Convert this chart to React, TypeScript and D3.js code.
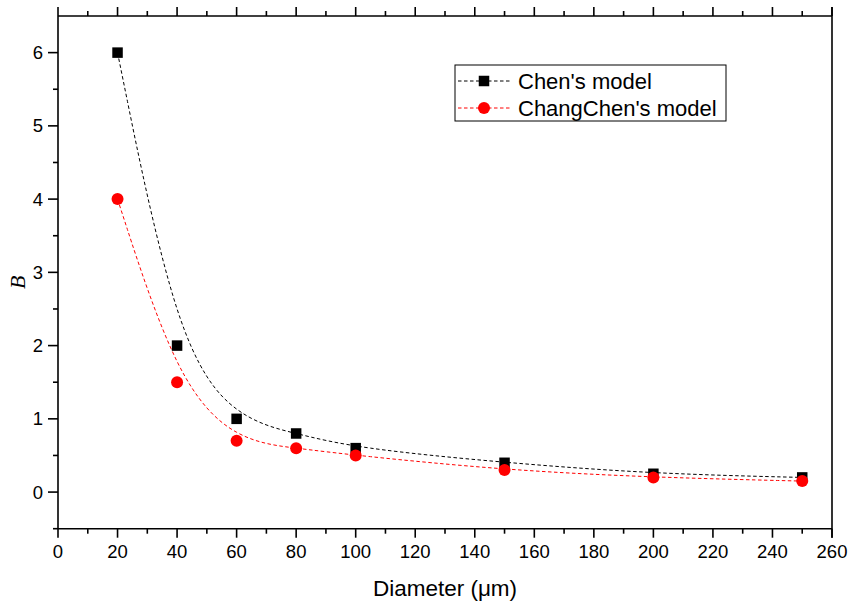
import React from "react";
import * as d3 from "d3";

const diameters = [20, 40, 60, 80, 100, 150, 200, 250];
const chenValues = [6, 2, 1, 0.8, 0.6, 0.4, 0.25, 0.2];
const changChenValues = [4, 1.5, 0.7, 0.6, 0.5, 0.3, 0.2, 0.15];
const xTicks = [0, 20, 40, 60, 80, 100, 120, 140, 160, 180, 200, 220, 240, 260];
const yTicks = [0, 1, 2, 3, 4, 5, 6];
const seriesNames = ["Chen's model", "ChangChen's model"];

const W = 848, H = 605;
const L = 58, R = 832, T = 16, B = 528.7;

export default function App() {
  const x = d3.scaleLinear().domain([0, 260]).range([L, R]);
  const y = d3.scaleLinear().domain([-0.5, 6.5]).range([B, T]);
  const line = d3
    .line<number>()
    .x((_, i) => x(diameters[i]))
    .y((d) => y(d))
    .curve(d3.curveBasis);

  const xMinor = d3.range(10, 260, 20);
  const yMinor = d3.range(-0.5, 6.5, 1);
  const font = "'Liberation Sans', Arial, sans-serif";

  const sq = 10.5;
  const cr = 6;

  return (
    <svg
      width={W}
      height={H}
      style={{ position: "absolute", left: 0, top: 0, background: "#fff" }}
      fontFamily={font}
    >
      <rect x={0} y={0} width={W} height={H} fill="#fff" />
      {/* curves */}
      <path d={line(chenValues) || ""} fill="none" stroke="#000" strokeWidth={1} strokeDasharray="3.5,2.5" />
      <path d={line(changChenValues) || ""} fill="none" stroke="#ff0000" strokeWidth={1} strokeDasharray="3.5,2.5" />
      {/* markers */}
      {diameters.map((d, i) => (
        <rect key={"s" + i} x={x(d) - sq / 2} y={y(chenValues[i]) - sq / 2} width={sq} height={sq} fill="#000" />
      ))}
      {diameters.map((d, i) => (
        <circle key={"c" + i} cx={x(d)} cy={y(changChenValues[i])} r={cr} fill="#ff0000" />
      ))}
      {/* frame */}
      <g stroke="#000" strokeWidth={1.6} fill="none">
        <line x1={L} y1={B} x2={R} y2={B} />
        <line x1={L} y1={T} x2={R} y2={T} />
        <line x1={L} y1={T} x2={L} y2={B} />
        <line x1={R} y1={T - 9} x2={R} y2={B + 9} />
        {xTicks.map((t) => (
          <g key={"xt" + t}>
            <line x1={x(t)} x2={x(t)} y1={B} y2={B + 9} />
            <line x1={x(t)} x2={x(t)} y1={T} y2={T - 9} />
          </g>
        ))}
        {xMinor.map((t) => (
          <g key={"xm" + t}>
            <line x1={x(t)} x2={x(t)} y1={B} y2={B + 5} />
            <line x1={x(t)} x2={x(t)} y1={T} y2={T - 5} />
          </g>
        ))}
        {yTicks.map((t) => (
          <line key={"yt" + t} x1={L} x2={L - 10} y1={y(t)} y2={y(t)} />
        ))}
        {yMinor.map((t) => (
          <line key={"ym" + t} x1={L} x2={L - 5} y1={y(t)} y2={y(t)} />
        ))}
      </g>
      {/* tick labels */}
      {xTicks.map((t) => (
        <text key={"xl" + t} x={x(t)} y={558} fontSize={18.5} textAnchor="middle" fill="#000">
          {t}
        </text>
      ))}
      {yTicks.map((t) => (
        <text key={"yl" + t} x={43} y={y(t) + 6.5} fontSize={18.5} textAnchor="end" fill="#000">
          {t}
        </text>
      ))}
      {/* titles */}
      <text x={(L + R) / 2} y={596} fontSize={22.5} textAnchor="middle" fill="#000">
        Diameter (μm)
      </text>
      <text
        transform={`translate(25, ${(T + B) / 2 + 10}) rotate(-90)`}
        fontSize={22}
        fontStyle="italic"
        fontFamily="'Liberation Serif', 'Times New Roman', serif"
        textAnchor="middle"
        fill="#000"
      >
        B
      </text>
      {/* legend */}
      <rect x={455} y={65} width={271} height={56} fill="#fff" stroke="#000" strokeWidth={1} />
      <line x1={458} x2={511} y1={81} y2={81} stroke="#000" strokeWidth={1} strokeDasharray="3.5,2.5" />
      <rect x={484 - sq / 2} y={81 - sq / 2} width={sq} height={sq} fill="#000" />
      <text x={518} y={89} fontSize={22} fill="#000">{seriesNames[0]}</text>
      <line x1={458} x2={511} y1={108} y2={108} stroke="#ff0000" strokeWidth={1} strokeDasharray="3.5,2.5" />
      <circle cx={484} cy={108} r={cr} fill="#ff0000" />
      <text x={518} y={116} fontSize={22} fill="#000">{seriesNames[1]}</text>
    </svg>
  );
}
